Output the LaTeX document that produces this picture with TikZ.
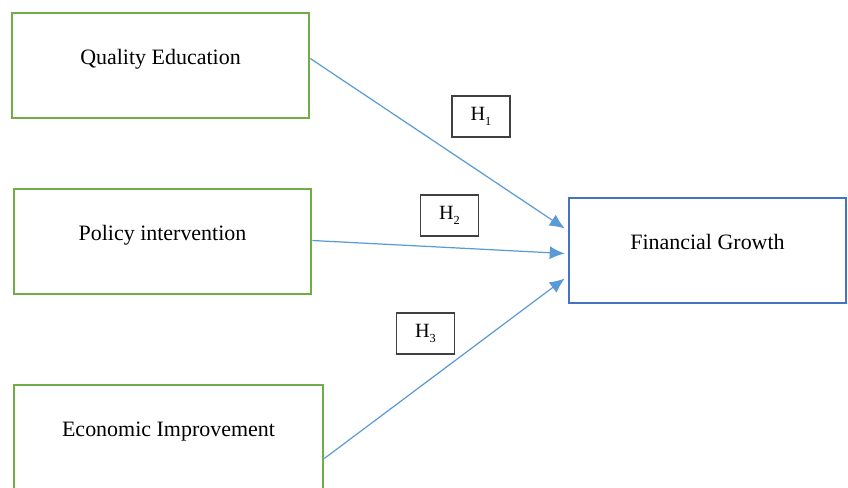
\documentclass[tikz,border=0pt]{standalone}
\usepackage{fontspec}
\setmainfont{Liberation Serif}
\usetikzlibrary{calc}
\usetikzlibrary{arrows.meta}

\definecolor{boxgreen}{HTML}{70AD47}
\definecolor{boxblue}{HTML}{4472C4}
\definecolor{arrowblue}{HTML}{5B9BD5}

\tikzset{
  factor/.style={draw=boxgreen, line width=1.5pt, minimum width=5.94cm, minimum height=2.1cm,
    text height=0.3cm, text depth=0.34cm, font=\fontsize{12.5}{14}\selectfont},
  hyp/.style={draw=black!75, line width=0.8pt, minimum width=1.16cm, minimum height=0.82cm,
    font=\fontsize{11.5}{13}\selectfont},
  link/.style={draw=arrowblue, line width=0.7pt, -{Latex[length=0.3cm,width=0.26cm]}}
}

\begin{document}
\begin{tikzpicture}[x=0.02cm,y=-0.02cm]
\useasboundingbox (0,0) rectangle (848,487);
\clip (0,0) rectangle (848,487);

\node[factor] (qual) at (160.5,65.5) {Quality Education};
\node[factor] (policy) at (162.5,241.5) {Policy intervention};
\node[factor, minimum width=6.18cm] (econ) at (168.5,437.5) {Economic Improvement};
\node[factor, draw=boxblue, minimum width=5.54cm] (growth) at (707.5,250.5) {Financial Growth};

\node[hyp] (h1) at (481,116.5) {H\raisebox{-0.5ex}{\scriptsize 1}};
\node[hyp] (h2) at (449.5,215.5) {H\raisebox{-0.5ex}{\scriptsize 2}};
\node[hyp] (h3) at (425.5,333.5) {H\raisebox{-0.5ex}{\scriptsize 3}};

\draw[link] ($(qual.east)+(0,-7)$) -- ($(growth.west)+(-3,-22)$);
\draw[link] ($(policy.east)+(0,-1)$) -- ($(growth.west)+(-3,3)$);
\draw[link] ($(econ.east)+(0,21)$) -- ($(growth.west)+(-3,28)$);
\end{tikzpicture}
\end{document}
